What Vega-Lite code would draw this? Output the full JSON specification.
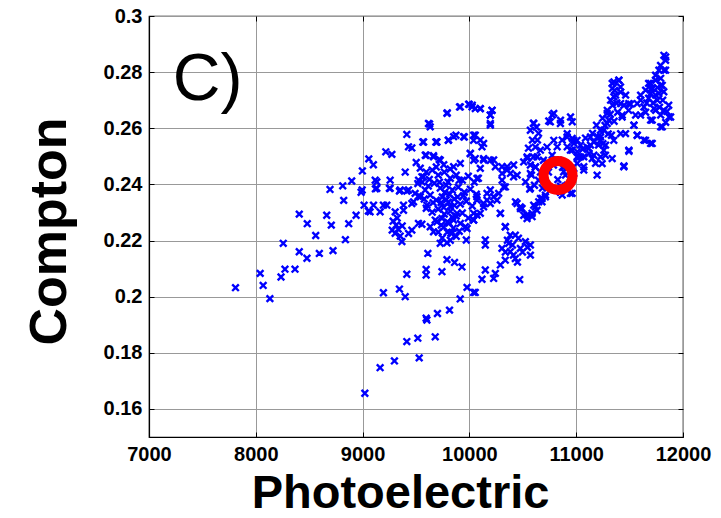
{
  "$schema": "https://vega.github.io/schema/vega-lite/v6.json",
  "autosize": {"type": "none"},
  "padding": {"left": 149, "top": 16, "right": 38, "bottom": 81},
  "width": 534,
  "height": 421,
  "background": "white",
  "config": {
    "view": {"stroke": "#000000", "strokeWidth": 1.2},
    "axis": {
      "labelFont": "Liberation Sans", "labelFontWeight": "bold", "labelFontSize": 20, "labelColor": "#000000",
      "labelFlush": false, "labelOverlap": false,
      "titleFont": "Liberation Sans", "titleFontWeight": "bold", "titleColor": "#000000",
      "domainColor": "#000000", "domainWidth": 1.2,
      "tickColor": "#000000", "tickSize": -5, "tickWidth": 1,
      "gridColor": "#999999", "gridWidth": 1, "gridOpacity": 1
    }
  },
  "resolve": {"axis": {"x": "independent", "y": "independent"}},
  "datasets": {
    "pts": [
      {"x":7810,"y":0.2032},{"x":8069,"y":0.204},{"x":8041,"y":0.2083},{"x":8132,"y":0.1993},{"x":8236,"y":0.207},{"x":8273,"y":0.2098},{"x":8367,"y":0.2098},{"x":8257,"y":0.219},{"x":8407,"y":0.216},{"x":8479,"y":0.2137},{"x":8595,"y":0.2154},{"x":8723,"y":0.2164},{"x":8561,"y":0.2218},{"x":8407,"y":0.2294},{"x":8482,"y":0.226},{"x":8664,"y":0.229},{"x":8707,"y":0.2255},{"x":8839,"y":0.2203},{"x":8870,"y":0.226},{"x":8939,"y":0.229},{"x":8695,"y":0.2382},{"x":8814,"y":0.2395},{"x":8898,"y":0.2412},{"x":8823,"y":0.2343},{"x":8986,"y":0.2372},{"x":9014,"y":0.2326},{"x":9054,"y":0.2305},{"x":8998,"y":0.2448},
      {"x":9058,"y":0.2491},{"x":9101,"y":0.247},{"x":9133,"y":0.2409},{"x":9120,"y":0.2384},{"x":9070,"y":0.2302},{"x":9164,"y":0.2302},{"x":9227,"y":0.2326},{"x":9251,"y":0.2386},{"x":9217,"y":0.2516},{"x":9274,"y":0.2507},{"x":9345,"y":0.2376},{"x":9414,"y":0.2376},{"x":9305,"y":0.2302},{"x":9383,"y":0.2308},{"x":9399,"y":0.2444},{"x":9414,"y":0.2578},{"x":9430,"y":0.2534},{"x":9461,"y":0.253},{"x":9502,"y":0.2478},{"x":9564,"y":0.2551},{"x":9627,"y":0.2615},{"x":9686,"y":0.2551},{"x":9595,"y":0.2504},{"x":9664,"y":0.2502},{"x":9517,"y":0.2403},{"x":9492,"y":0.2368},{"x":9570,"y":0.2427},{"x":9586,"y":0.238},
      {"x":9793,"y":0.2655},{"x":9908,"y":0.2676},{"x":9999,"y":0.2685},{"x":10055,"y":0.267},{"x":9802,"y":0.2557},{"x":9874,"y":0.2575},{"x":9952,"y":0.2569},{"x":10055,"y":0.2575},{"x":9717,"y":0.2489},{"x":10008,"y":0.251},{"x":10055,"y":0.2492},
      {"x":9461,"y":0.2332},{"x":9286,"y":0.2269},{"x":9314,"y":0.2255},{"x":9333,"y":0.2241},{"x":9305,"y":0.2226},{"x":9352,"y":0.2216},{"x":9371,"y":0.2252},{"x":9324,"y":0.228},{"x":9277,"y":0.2237},
      {"x":9368,"y":0.2196},{"x":9430,"y":0.2225},{"x":9461,"y":0.2237},{"x":9523,"y":0.2261},{"x":9555,"y":0.2258},{"x":9633,"y":0.2249},{"x":9664,"y":0.2231},{"x":9727,"y":0.219},{"x":9790,"y":0.2192},{"x":9827,"y":0.2227},{"x":9696,"y":0.2267},{"x":9743,"y":0.2279},{"x":9978,"y":0.2243},{"x":9971,"y":0.2202},{"x":9611,"y":0.2154},{"x":9790,"y":0.2132},{"x":9861,"y":0.2122},{"x":9930,"y":0.2106},{"x":9414,"y":0.208},{"x":9595,"y":0.2097},{"x":9595,"y":0.2077},{"x":9743,"y":0.2089},{"x":9345,"y":0.2027},{"x":9399,"y":0.2},{"x":9195,"y":0.2014},{"x":9978,"y":0.2033},{"x":10055,"y":0.2015},{"x":9914,"y":0.1992},{"x":9814,"y":0.1952},{"x":9701,"y":0.194},{"x":9595,"y":0.1923},{"x":10039,"y":0.2297},
      {"x":9602,"y":0.1917},{"x":9680,"y":0.1857},{"x":9517,"y":0.1852},{"x":9414,"y":0.184},{"x":9530,"y":0.1782},{"x":9298,"y":0.1771},{"x":9164,"y":0.1747},{"x":9021,"y":0.1656},
      {"x":10071,"y":0.2291},{"x":10039,"y":0.2273},{"x":10290,"y":0.2297},{"x":10196,"y":0.2332},{"x":10446,"y":0.2332},{"x":10493,"y":0.2314},{"x":10540,"y":0.2291},{"x":10587,"y":0.2285},{"x":10602,"y":0.2326},{"x":10633,"y":0.2308},{"x":10680,"y":0.2338},{"x":10336,"y":0.2249},{"x":10383,"y":0.2219},{"x":10430,"y":0.2219},{"x":10149,"y":0.2202},{"x":10149,"y":0.2184},{"x":10305,"y":0.2172},{"x":10368,"y":0.219},{"x":10383,"y":0.216},{"x":10477,"y":0.2172},{"x":10524,"y":0.2196},{"x":10571,"y":0.2184},{"x":10571,"y":0.2148},{"x":10430,"y":0.2136},{"x":10336,"y":0.213},{"x":10290,"y":0.2113},{"x":10149,"y":0.2095},{"x":10118,"y":0.2062},{"x":10227,"y":0.2065},{"x":10243,"y":0.2083},{"x":10471,"y":0.2061},{"x":10039,"y":0.2015},
      {"x":10356,"y":0.2201},{"x":10403,"y":0.2184},{"x":10459,"y":0.2208},{"x":10497,"y":0.2159},{"x":10412,"y":0.2148},{"x":10543,"y":0.2176},{"x":10337,"y":0.2159},{"x":10450,"y":0.2123},
      {"x":10027,"y":0.2682},{"x":10102,"y":0.267},{"x":10212,"y":0.2664},{"x":10196,"y":0.2647},{"x":10196,"y":0.2617},{"x":10039,"y":0.2557},{"x":10133,"y":0.2546},{"x":10133,"y":0.2487},{"x":10227,"y":0.2487},{"x":10305,"y":0.2463},{"x":10414,"y":0.2469},{"x":10508,"y":0.248},{"x":10540,"y":0.2498},{"x":10352,"y":0.2451},{"x":10414,"y":0.2427},{"x":10071,"y":0.2421},{"x":10321,"y":0.2391},{"x":10571,"y":0.2386},{"x":10071,"y":0.2356},{"x":10165,"y":0.2368},{"x":10133,"y":0.2332},{"x":10258,"y":0.2344},{"x":10477,"y":0.232},{"x":10665,"y":0.235},{"x":10852,"y":0.2373},{"x":10946,"y":0.2368},{"x":10828,"y":0.2417},{"x":10883,"y":0.2445},{"x":10790,"y":0.2653},{"x":10758,"y":0.2623},{"x":10852,"y":0.2617},{"x":10602,"y":0.2617},{"x":10915,"y":0.2569},{"x":10977,"y":0.2557},{"x":10946,"y":0.2522},{"x":11008,"y":0.2498},{"x":10727,"y":0.2533},{"x":10790,"y":0.2557},
      {"x":10600,"y":0.2618},{"x":10628,"y":0.2604},{"x":10647,"y":0.2582},{"x":10590,"y":0.2558},{"x":10618,"y":0.2533},{"x":10600,"y":0.2498},{"x":10543,"y":0.2493},{"x":10571,"y":0.2469},{"x":10618,"y":0.2462},{"x":10665,"y":0.2444},{"x":10581,"y":0.2433},{"x":10647,"y":0.2415},{"x":10609,"y":0.2397},{"x":10684,"y":0.2387},{"x":10712,"y":0.2362},{"x":10665,"y":0.2522},{"x":10693,"y":0.2486},{"x":10553,"y":0.2529},{"x":10637,"y":0.2558},{"x":10571,"y":0.2593},
      {"x":10775,"y":0.2647},{"x":10853,"y":0.2629},{"x":10743,"y":0.2626},{"x":10916,"y":0.2581},{"x":10963,"y":0.2623},{"x":10947,"y":0.264},{"x":10963,"y":0.2564},{"x":10978,"y":0.2546},{"x":10822,"y":0.2534},{"x":10869,"y":0.2558},{"x":10916,"y":0.2534},{"x":10963,"y":0.2522},{"x":11009,"y":0.2516},{"x":10775,"y":0.2504},{"x":10731,"y":0.2479},{"x":10787,"y":0.2469},{"x":10834,"y":0.2486},{"x":10872,"y":0.2461},{"x":10740,"y":0.2444},{"x":10900,"y":0.2433},{"x":10947,"y":0.2408},{"x":10853,"y":0.2394},{"x":10853,"y":0.2372},
      {"x":9821,"y":0.232},{"x":9884,"y":0.2297},{"x":9852,"y":0.2273},{"x":9915,"y":0.2261},{"x":10071,"y":0.2344},{"x":10102,"y":0.2297},{"x":10040,"y":0.2273},{"x":9962,"y":0.2249},{"x":10196,"y":0.238},{"x":10227,"y":0.2356},{"x":10165,"y":0.2344},{"x":10133,"y":0.232},{"x":10290,"y":0.2297},{"x":10337,"y":0.2249},{"x":10431,"y":0.2338},{"x":10478,"y":0.2314},{"x":10509,"y":0.229},{"x":10540,"y":0.2278},{"x":10587,"y":0.2297},{"x":10618,"y":0.232},{"x":10649,"y":0.2338},{"x":10681,"y":0.235},{"x":10712,"y":0.2356},{"x":10565,"y":0.2383},{"x":10869,"y":0.2362},{"x":10274,"y":0.2368},{"x":10337,"y":0.2391},{"x":10306,"y":0.2415},{"x":10384,"y":0.2439},{"x":10447,"y":0.2433},{"x":10525,"y":0.2409},{"x":10571,"y":0.2439},{"x":10618,"y":0.2462},{"x":10634,"y":0.2498},{"x":10353,"y":0.2463},{"x":10306,"y":0.2439},{"x":10243,"y":0.2463},{"x":10196,"y":0.2486},{"x":10133,"y":0.2492},{"x":10102,"y":0.2457},{"x":10040,"y":0.2486},{"x":10009,"y":0.251},{"x":9915,"y":0.2475},{"x":9852,"y":0.2463},{"x":9727,"y":0.2486},{"x":9664,"y":0.2498},{"x":9587,"y":0.2504},{"x":9852,"y":0.257},{"x":9946,"y":0.257},{"x":10040,"y":0.2575},{"x":10102,"y":0.2558},{"x":10118,"y":0.2534},{"x":10196,"y":0.2611},{"x":10196,"y":0.2647},{"x":10212,"y":0.2664},{"x":10102,"y":0.267},{"x":10025,"y":0.2676},{"x":9993,"y":0.2686},{"x":9915,"y":0.2676},{"x":9790,"y":0.2653},{"x":9617,"y":0.2617},{"x":9633,"y":0.2605},{"x":9696,"y":0.2551},{"x":9805,"y":0.2558},{"x":9571,"y":0.2551},
      {"x":9540,"y":0.2458},{"x":9596,"y":0.2444},{"x":9652,"y":0.2451},{"x":9708,"y":0.2433},{"x":9765,"y":0.2444},{"x":9821,"y":0.2422},{"x":9877,"y":0.2433},{"x":9934,"y":0.2415},{"x":9990,"y":0.2429},{"x":10046,"y":0.2408},{"x":10084,"y":0.2422},
      {"x":9558,"y":0.2408},{"x":9615,"y":0.2394},{"x":9671,"y":0.2404},{"x":9727,"y":0.2387},{"x":9783,"y":0.2397},{"x":9840,"y":0.238},{"x":9896,"y":0.239},{"x":9952,"y":0.2372},{"x":10009,"y":0.2383},{"x":10065,"y":0.2365},
      {"x":9521,"y":0.2358},{"x":9577,"y":0.2348},{"x":9633,"y":0.2362},{"x":9690,"y":0.2344},{"x":9746,"y":0.2355},{"x":9802,"y":0.2337},{"x":9858,"y":0.2348},{"x":9915,"y":0.233},{"x":9971,"y":0.234},{"x":10027,"y":0.2323},
      {"x":9596,"y":0.2315},{"x":9652,"y":0.2301},{"x":9708,"y":0.2312},{"x":9765,"y":0.2294},{"x":9821,"y":0.2305},{"x":9877,"y":0.2287},{"x":9934,"y":0.2298},{"x":9990,"y":0.228},
      {"x":9680,"y":0.2273},{"x":9737,"y":0.2255},{"x":9793,"y":0.2266},{"x":9849,"y":0.2244},{"x":9905,"y":0.2233},{"x":9793,"y":0.223},{"x":9746,"y":0.2209},{"x":9821,"y":0.2201},{"x":9877,"y":0.2215},{"x":9708,"y":0.223},
      {"x":9760,"y":0.2318},{"x":9785,"y":0.2345},{"x":9810,"y":0.2262},{"x":9840,"y":0.2283},{"x":9860,"y":0.2325},{"x":9735,"y":0.2335},{"x":9770,"y":0.2372},{"x":9815,"y":0.2365},{"x":9890,"y":0.2355},{"x":9720,"y":0.2408},{"x":9760,"y":0.2248},{"x":9835,"y":0.2225},{"x":9800,"y":0.2408},{"x":9660,"y":0.2335},{"x":9945,"y":0.236},{"x":9905,"y":0.2415},{"x":9625,"y":0.2418},{"x":9690,"y":0.2462},{"x":9760,"y":0.247},{"x":9820,"y":0.2455},
      {"x":9258,"y":0.2415},{"x":9118,"y":0.2415},{"x":9133,"y":0.2386},{"x":9258,"y":0.2386},{"x":9352,"y":0.238},{"x":9430,"y":0.238},{"x":9477,"y":0.2338},{"x":9540,"y":0.2356},{"x":9602,"y":0.2326},{"x":9195,"y":0.2326},{"x":9102,"y":0.2326},{"x":9383,"y":0.2326},{"x":9524,"y":0.2415},{"x":9555,"y":0.2427},{"x":8996,"y":0.238},
      {"x":11821,"y":0.286},{"x":11837,"y":0.2842},{"x":11790,"y":0.2824},{"x":11774,"y":0.2807},{"x":11837,"y":0.2807},{"x":11743,"y":0.2789},{"x":11337,"y":0.276},{"x":11399,"y":0.2771},{"x":11415,"y":0.2747},{"x":11696,"y":0.276},{"x":11806,"y":0.2753},{"x":11603,"y":0.2718},{"x":11696,"y":0.2724},{"x":11774,"y":0.2724},{"x":11352,"y":0.2712},{"x":11493,"y":0.2688},{"x":11571,"y":0.2688},{"x":11634,"y":0.2676},{"x":11728,"y":0.267},{"x":11821,"y":0.2664},{"x":11884,"y":0.264},{"x":11712,"y":0.2629},{"x":11806,"y":0.2605},{"x":11430,"y":0.264},{"x":11290,"y":0.2653},{"x":11290,"y":0.2617},{"x":11540,"y":0.2611},{"x":11462,"y":0.2581},{"x":11571,"y":0.2575},{"x":11649,"y":0.2557},{"x":11712,"y":0.2546},{"x":11227,"y":0.2593},{"x":11134,"y":0.2569},{"x":11227,"y":0.2557},{"x":11352,"y":0.2557},{"x":11008,"y":0.2557},{"x":11102,"y":0.2533},{"x":11258,"y":0.2522},{"x":11493,"y":0.2522},{"x":11040,"y":0.2498},{"x":11165,"y":0.2504},{"x":11274,"y":0.2504},{"x":11337,"y":0.2492},{"x":11243,"y":0.2474},{"x":11071,"y":0.2463},{"x":11446,"y":0.2463},{"x":11196,"y":0.2433},{"x":10962,"y":0.2368},
      {"x":11353,"y":0.2765},{"x":11400,"y":0.2771},{"x":11338,"y":0.2742},{"x":11416,"y":0.2729},{"x":11369,"y":0.2718},{"x":11322,"y":0.27},{"x":11291,"y":0.2664},{"x":11306,"y":0.2629},{"x":11259,"y":0.2593},{"x":11228,"y":0.2569},{"x":11341,"y":0.2682},{"x":11388,"y":0.2657},{"x":11247,"y":0.2636},{"x":11190,"y":0.2611},{"x":11153,"y":0.2582},{"x":11118,"y":0.2528},{"x":11165,"y":0.2551},{"x":11071,"y":0.2498},{"x":11009,"y":0.2475},{"x":10978,"y":0.2439},{"x":10916,"y":0.2397},{"x":11150,"y":0.2492},{"x":11181,"y":0.2475},{"x":11228,"y":0.2498},{"x":11071,"y":0.2451},{"x":11040,"y":0.254},{"x":11087,"y":0.2565},{"x":11134,"y":0.254},{"x":11209,"y":0.254},{"x":11275,"y":0.254},{"x":11022,"y":0.2497},
      {"x":11509,"y":0.2686},{"x":11416,"y":0.2688},{"x":11447,"y":0.2682},{"x":11431,"y":0.2647},{"x":11541,"y":0.2611},{"x":11572,"y":0.2575},{"x":11634,"y":0.2558},{"x":11697,"y":0.2546},{"x":11791,"y":0.2605},{"x":11869,"y":0.264},{"x":11822,"y":0.2807},{"x":11838,"y":0.2854},{"x":11791,"y":0.2753},{"x":11650,"y":0.2736},{"x":11603,"y":0.27},{"x":11678,"y":0.2707},{"x":11744,"y":0.2718},{"x":11810,"y":0.27},{"x":11866,"y":0.2682},{"x":11744,"y":0.2664},{"x":11650,"y":0.2657},{"x":11697,"y":0.2629},{"x":11791,"y":0.2647},{"x":11838,"y":0.2621},{"x":11603,"y":0.2647},{"x":11491,"y":0.2664},{"x":11556,"y":0.2647},{"x":11463,"y":0.2718},{"x":11744,"y":0.2771},{"x":11678,"y":0.276},{"x":11791,"y":0.2778},{"x":11716,"y":0.2742},{"x":11494,"y":0.2518},{"x":11447,"y":0.2466},{"x":11416,"y":0.2581},
      {"x":11360,"y":0.2735},{"x":11380,"y":0.269},{"x":11320,"y":0.265},{"x":11355,"y":0.2625},{"x":11270,"y":0.261},{"x":11300,"y":0.258},{"x":11200,"y":0.257},{"x":11250,"y":0.2545},{"x":11330,"y":0.2575},{"x":11120,"y":0.251},{"x":11060,"y":0.2525},{"x":11760,"y":0.27},{"x":11720,"y":0.269},{"x":11780,"y":0.2675},{"x":11660,"y":0.269},{"x":11700,"y":0.274},{"x":11760,"y":0.2745},{"x":11820,"y":0.273},{"x":11850,"y":0.266}
    ],
    "ring": [{"x": 10830, "y": 0.2432}],
    "lbl": [{"x": 7223, "y": 0.27, "t": "C)"}]
  },
  "layer": [
    {
      "data": {"name": "pts"},
      "mark": {"type": "point", "shape": "M-1,-1L1,1M-1,1L1,-1", "filled": false, "stroke": "#0000ff", "strokeWidth": 2.4, "size": 44, "opacity": 1},
      "encoding": {
        "x": {"field": "x", "type": "quantitative",
          "scale": {"domain": [7000, 12000], "nice": false, "zero": false},
          "axis": {"values": [7000, 8000, 9000, 10000, 11000, 12000], "format": "d", "title": "Photoelectric", "titleFontSize": 47,
            "labelPadding": 12, "titleX": 251, "titleY": 70, "titleBaseline": "alphabetic", "titleAnchor": null, "titleAlign": "center"}},
        "y": {"field": "y", "type": "quantitative",
          "scale": {"domain": [0.15, 0.3], "nice": false, "zero": false},
          "axis": {"values": [0.16, 0.18, 0.2, 0.22, 0.24, 0.26, 0.28, 0.3], "format": "~g", "title": "Compton", "titleFontSize": 52,
            "labelPadding": 12, "titleX": -100, "titleY": 215, "titleAngle": 270, "titleBaseline": "middle", "titleAlign": "center", "titleAnchor": null}}
      }
    },
    {
      "data": {"name": "ring"},
      "mark": {"type": "point", "shape": "circle", "filled": false, "stroke": "#ff0000", "strokeWidth": 10, "size": 841, "opacity": 1},
      "encoding": {
        "x": {"field": "x", "type": "quantitative",
          "axis": {"orient": "top", "values": [7000, 8000, 9000, 10000, 11000, 12000], "labels": false, "title": null, "grid": false, "domain": false}},
        "y": {"field": "y", "type": "quantitative",
          "axis": {"orient": "right", "values": [0.16, 0.18, 0.2, 0.22, 0.24, 0.26, 0.28, 0.3], "labels": false, "title": null, "grid": false, "domain": false}}
      }
    },
    {
      "data": {"name": "lbl"},
      "mark": {"type": "text", "font": "Liberation Sans", "fontSize": 66, "align": "left", "baseline": "alphabetic", "color": "#000000"},
      "encoding": {
        "x": {"field": "x", "type": "quantitative", "axis": null},
        "y": {"field": "y", "type": "quantitative", "axis": null},
        "text": {"field": "t"}
      }
    }
  ]
}
